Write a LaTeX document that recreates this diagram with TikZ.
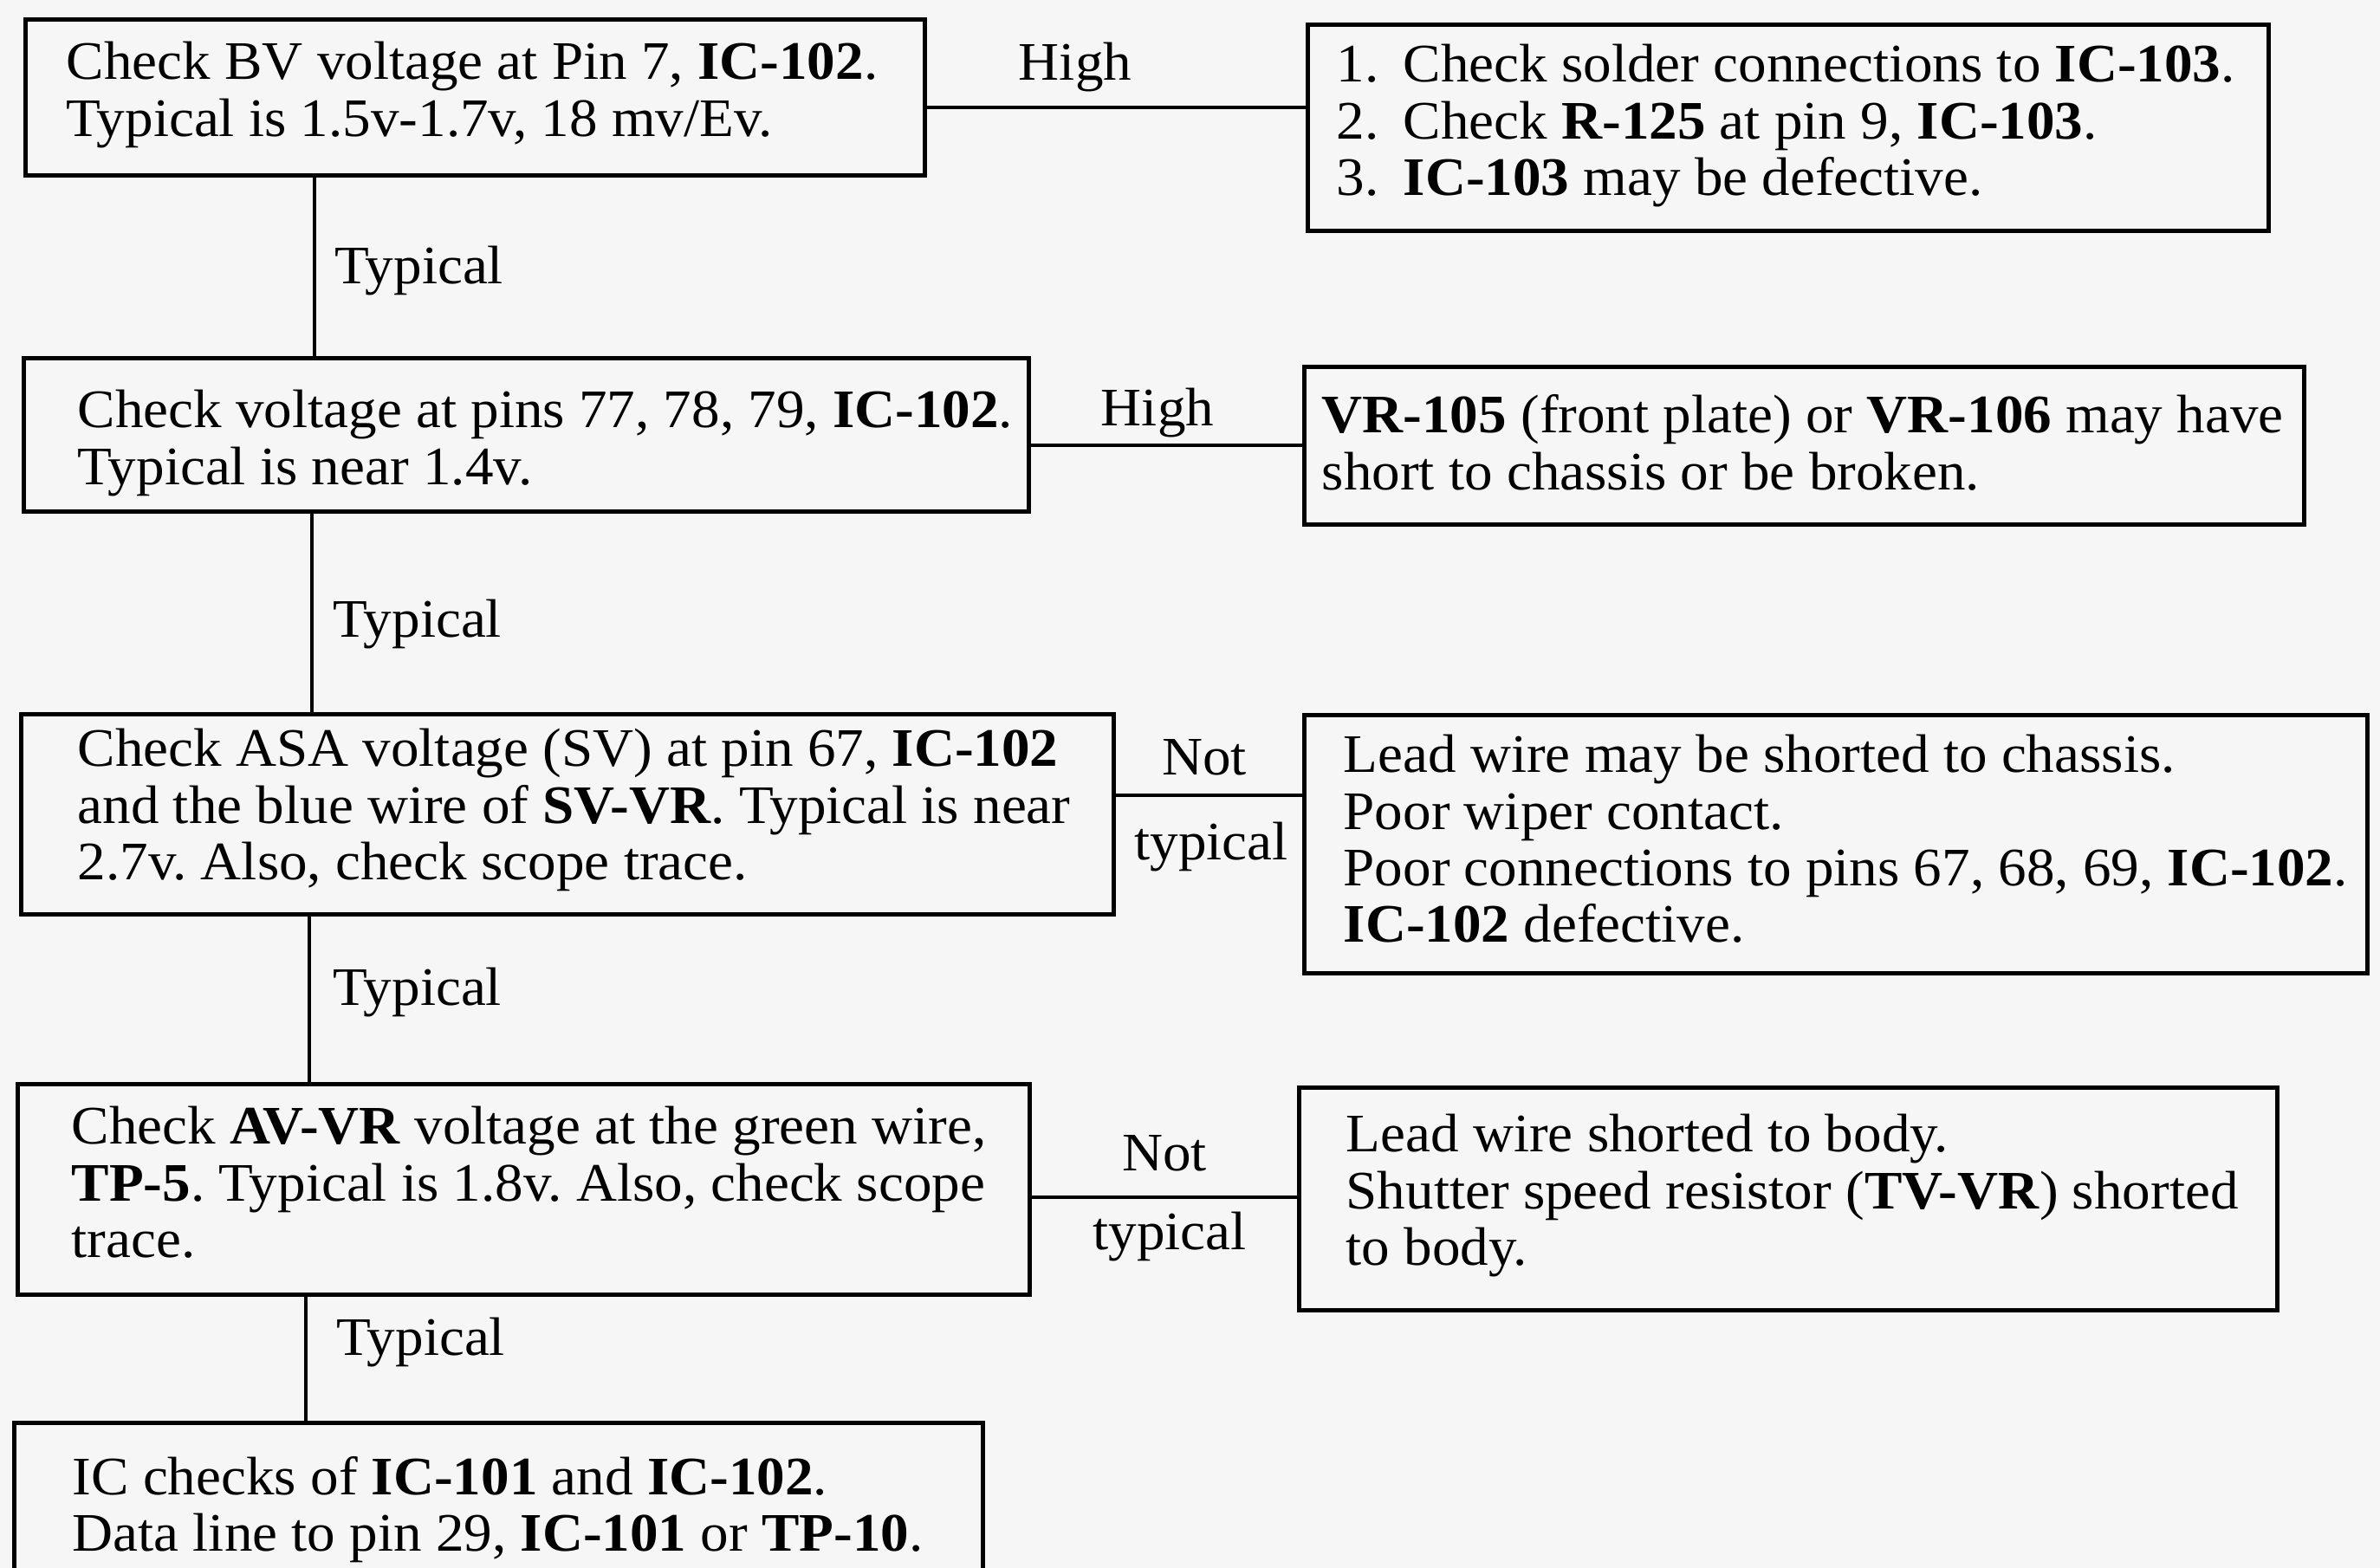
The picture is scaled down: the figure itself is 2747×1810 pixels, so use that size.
\documentclass[tikz,border=0pt]{standalone}
\usepackage{fontspec}
\setmainfont{Liberation Serif}[FakeStretch=1.04]
\definecolor{paper}{RGB}{246,246,246}
\newcommand{\mylines}[1]{\begin{tabular}[t]{@{}l@{}}#1\end{tabular}}
\frenchspacing
\begin{document}
\begin{tikzpicture}[x=0.01cm,y=-0.01cm,
  bx/.style={draw, line width=1.5pt, inner sep=0pt, anchor=north west},
  conn/.style={line width=1.1pt},
  txt/.style={inner sep=0pt, anchor=base west, font=\fontsize{17.8}{18.5}\selectfont},
  lbl/.style={inner sep=0pt, anchor=base, font=\fontsize{17.8}{18.5}\selectfont}]
\useasboundingbox (0,0) rectangle (2747,1810);
\fill[paper] (0,0) rectangle (2747,1810);
\clip (0,0) rectangle (2747,1810);

% boxes
\node[bx, minimum width=10.37cm, minimum height=1.80cm] (b1) at (27,20) {};
\node[bx, minimum width=11.08cm, minimum height=2.38cm] (r1) at (1507,26) {};
\node[bx, minimum width=11.59cm, minimum height=1.77cm] (b2) at (25,411) {};
\node[bx, minimum width=11.53cm, minimum height=1.82cm] (r2) at (1503,421) {};
\node[bx, minimum width=12.60cm, minimum height=2.31cm] (b3) at (22,822) {};
\node[bx, minimum width=12.26cm, minimum height=2.98cm] (r3) at (1503,823) {};
\node[bx, minimum width=11.67cm, minimum height=2.43cm] (b4) at (18,1249) {};
\node[bx, minimum width=11.28cm, minimum height=2.57cm] (r4) at (1497,1253) {};
\node[bx, minimum width=11.17cm, minimum height=2.60cm] (b5) at (14,1640) {};

% texts
\node[txt] (t1) at (76,92) {\mylines{Check BV voltage at Pin 7, \textbf{IC-102}.\\
Typical is 1.5v-1.7v, 18 mv/Ev.}};
\node[txt] (tr1) at (1542,95) {\mylines{\makebox[0.77cm][l]{1.}Check solder connections to \textbf{IC-103}.\\
\makebox[0.77cm][l]{2.}Check \textbf{R-125} at pin 9, \textbf{IC-103}.\\
\makebox[0.77cm][l]{3.}\textbf{IC-103} may be defective.}};
\node[txt] (t2) at (89,494) {\mylines{Check voltage at pins 77, 78, 79, \textbf{IC-102}.\\
Typical is near 1.4v.}};
\node[txt] (tr2) at (1525,500) {\mylines{\textbf{VR-105} (front plate) or \textbf{VR-106} may have\\
short to chassis or be broken.}};
\node[txt] (t3) at (89,885) {\mylines{Check ASA voltage (SV) at pin 67, \textbf{IC-102}\\
and the blue wire of \textbf{SV-VR}. Typical is near\\
2.7v. Also, check scope trace.}};
\node[txt] (tr3) at (1550,892) {\mylines{Lead wire may be shorted to chassis.\\
Poor wiper contact.\\
Poor connections to pins 67, 68, 69, \textbf{IC-102}.\\
\textbf{IC-102} defective.}};
\node[txt] (t4) at (82,1321) {\mylines{Check \textbf{AV-VR} voltage at the green wire,\\
\textbf{TP-5}. Typical is 1.8v. Also, check scope\\
trace.}};
\node[txt] (tr4) at (1553,1330) {\mylines{Lead wire shorted to body.\\
Shutter speed resistor (\textbf{TV-VR}) shorted\\
to body.}};
\node[txt] (t5) at (83,1725) {\mylines{IC checks of \textbf{IC-101} and \textbf{IC-102}.\\
Data line to pin 29, \textbf{IC-101} or \textbf{TP-10}.}};

% connector guide coordinates
\coordinate (x1) at (363,0);
\coordinate (x2) at (360,0);
\coordinate (x3) at (357,0);
\coordinate (x4) at (353,0);
\coordinate (y1) at (0,124);
\coordinate (y2) at (0,514);
\coordinate (y3) at (0,918);
\coordinate (y4) at (0,1382);

% connectors
\draw[conn] (b1.south -| x1) -- (b2.north -| x1);
\draw[conn] (b2.south -| x2) -- (b3.north -| x2);
\draw[conn] (b3.south -| x3) -- (b4.north -| x3);
\draw[conn] (b4.south -| x4) -- (b5.north -| x4);
\draw[conn] (b1.east |- y1) -- (r1.west |- y1);
\draw[conn] (b2.east |- y2) -- (r2.west |- y2);
\draw[conn] (b3.east |- y3) -- (r3.west |- y3);
\draw[conn] (b4.east |- y4) -- (r4.west |- y4);

% labels
\node[lbl] (lh1) at (1241,93) {High};
\node[lbl] (lh2) at (1336,492) {High};
\node[txt] (lt1) at (386,328) {Typical};
\node[txt] (lt2) at (384,736) {Typical};
\node[txt] (lt3) at (384,1161) {Typical};
\node[txt] (lt4) at (388,1564) {Typical};
\node[lbl] (ln3) at (1390,895) {Not};
\node[lbl] (ly3) at (1398,993) {typical};
\node[lbl] (ln4) at (1344,1352) {Not};
\node[lbl] (ly4) at (1350,1443) {typical};
\end{tikzpicture}
\end{document}
